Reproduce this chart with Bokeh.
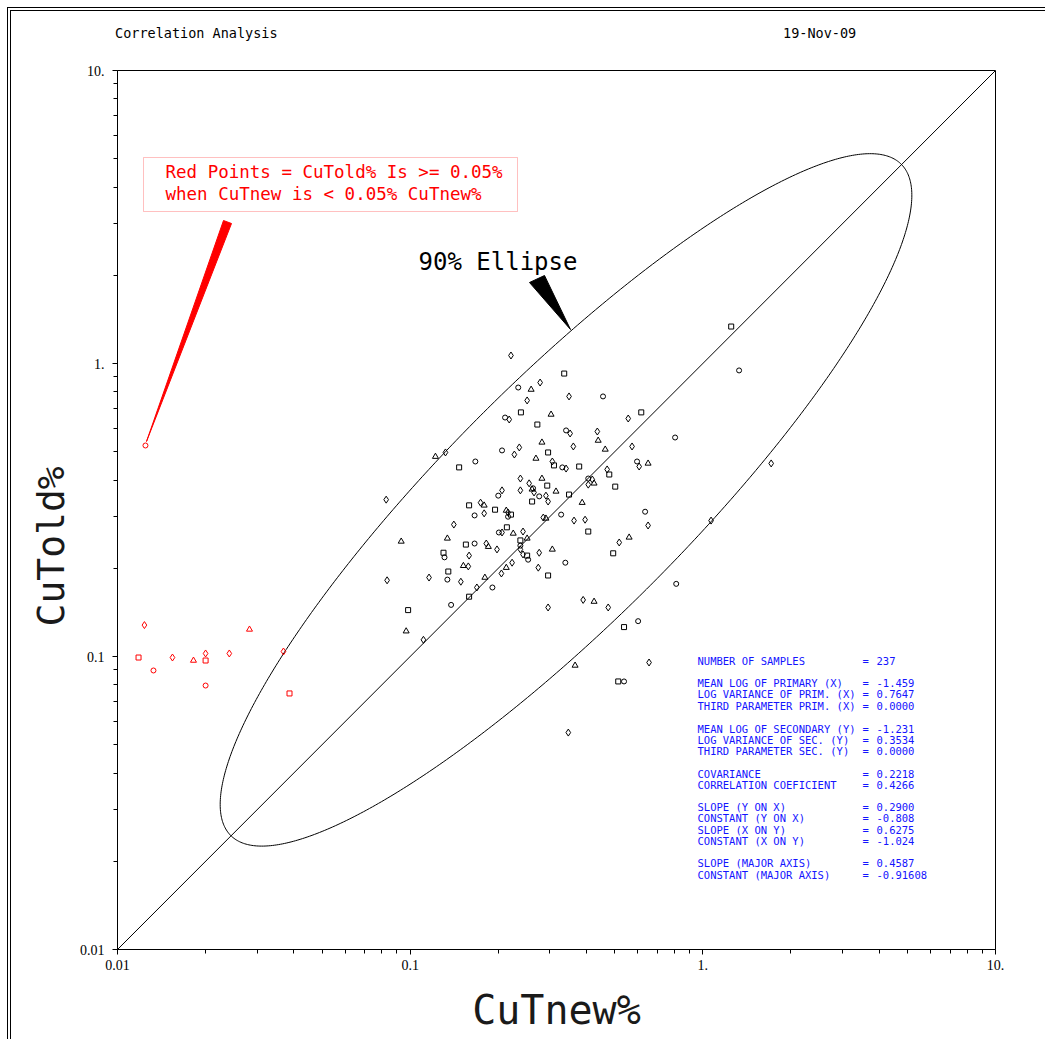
import math
import numpy as np
from bokeh.plotting import figure
from bokeh.layouts import column
from bokeh.models import FixedTicker, BoxAnnotation, ColumnDataSource, Div, Title
from bokeh.embed import file_html
from bokeh.resources import INLINE
from bokeh.core.properties import value

# ---------------- data ----------------
cu_new = [0.221, 0.336, 0.234, 0.278, 0.259, 0.251, 0.239, 0.211, 0.218, 0.303,
          0.349, 0.272, 0.341, 0.352, 0.282, 0.236, 0.296, 0.206, 0.227, 0.269,
          0.306, 0.310, 0.331, 0.341, 0.122, 0.132, 0.147, 0.167, 0.238, 0.282,
          0.255, 0.294, 0.456, 0.436, 0.439, 0.556, 0.616, 0.804, 0.361, 0.464,
          0.573, 0.378, 0.596, 0.606, 0.650, 0.471, 0.479, 0.406, 0.419, 0.425,
          0.406, 0.502, 0.263, 0.0828, 0.0932, 0.0834, 0.0984, 0.138, 0.116, 0.134,
          0.141, 0.159, 0.166, 0.174, 0.179, 0.179, 0.195, 0.200, 0.206, 0.213,
          0.216, 0.221, 0.216, 0.238, 0.261, 0.265, 0.261, 0.276, 0.291, 0.315,
          0.296, 0.349, 0.328, 0.285, 0.291, 0.363, 0.214, 0.201, 0.206, 0.225,
          0.243, 0.155, 0.166, 0.182, 0.185, 0.198, 0.130, 0.131, 0.159, 0.152,
          0.158, 0.135, 0.134, 0.149, 0.180, 0.169, 0.159, 0.191, 0.205, 0.213,
          0.223, 0.238, 0.238, 0.238, 0.251, 0.243, 0.251, 0.253, 0.276, 0.306,
          0.274, 0.296, 0.339, 0.296, 0.387, 0.396, 0.406, 0.635, 0.650, 0.560,
          0.518, 0.494, 0.811, 0.390, 0.425, 0.475, 0.538, 0.601, 1.067, 0.0969,
          0.111, 1.250, 1.330, 1.712, 0.366, 0.347, 0.514, 0.538, 0.655]
cu_old = [1.065, 0.924, 0.828, 0.861, 0.815, 0.748, 0.681, 0.654, 0.644, 0.670,
          0.772, 0.619, 0.591, 0.577, 0.538, 0.517, 0.497, 0.505, 0.489, 0.474,
          0.463, 0.449, 0.442, 0.438, 0.481, 0.497, 0.442, 0.463, 0.405, 0.405,
          0.390, 0.383, 0.772, 0.586, 0.546, 0.649, 0.681, 0.559, 0.521, 0.509,
          0.521, 0.445, 0.463, 0.445, 0.456, 0.435, 0.418, 0.405, 0.402, 0.390,
          0.386, 0.380, 0.375, 0.343, 0.247, 0.182, 0.144, 0.150, 0.186, 0.253,
          0.282, 0.328, 0.303, 0.335, 0.328, 0.308, 0.317, 0.354, 0.369, 0.315,
          0.310, 0.305, 0.300, 0.369, 0.372, 0.363, 0.338, 0.352, 0.354, 0.366,
          0.338, 0.357, 0.305, 0.298, 0.296, 0.291, 0.276, 0.265, 0.265, 0.263,
          0.267, 0.241, 0.243, 0.243, 0.237, 0.232, 0.226, 0.218, 0.221, 0.204,
          0.203, 0.195, 0.183, 0.180, 0.186, 0.172, 0.160, 0.172, 0.192, 0.201,
          0.209, 0.249, 0.239, 0.232, 0.253, 0.223, 0.221, 0.214, 0.226, 0.232,
          0.201, 0.189, 0.209, 0.147, 0.335, 0.293, 0.267, 0.312, 0.280, 0.255,
          0.245, 0.225, 0.177, 0.156, 0.154, 0.147, 0.126, 0.132, 0.291, 0.122,
          0.114, 1.337, 0.947, 0.456, 0.0932, 0.0550, 0.0822, 0.0822, 0.0954]

red_new = [0.01236, 0.0118, 0.01327, 0.01541, 0.01818, 0.0200, 0.0200,
           0.0200, 0.0241, 0.02825, 0.0369, 0.0387, 0.01246]
red_old = [0.128, 0.0992, 0.0896, 0.0992, 0.0969, 0.1024, 0.0969,
           0.0796, 0.1024, 0.1237, 0.104, 0.0748, 0.525]

major_ticks = [0.01, 0.1, 1.0, 10.0]
tick_labels = ["0.01", "0.1", "1.", "10."]
minor_multipliers = [2, 3, 4, 5, 6, 7, 8, 9]

stat_names = ["NUMBER OF SAMPLES", "MEAN LOG OF PRIMARY (X)", "LOG VARIANCE OF PRIM. (X)",
              "THIRD PARAMETER PRIM. (X)", "MEAN LOG OF SECONDARY (Y)",
              "LOG VARIANCE OF SEC. (Y)", "THIRD PARAMETER SEC. (Y)", "COVARIANCE",
              "CORRELATION COEFICIENT", "SLOPE (Y ON X)", "CONSTANT (Y ON X)",
              "SLOPE (X ON Y)", "CONSTANT (X ON Y)", "SLOPE (MAJOR AXIS)",
              "CONSTANT (MAJOR AXIS)"]
stat_values = ["237", "-1.459", "0.7647", "0.0000", "-1.231", "0.3534", "0.0000",
               "0.2218", "0.4266", "0.2900", "-0.808", "0.6275", "-1.024", "0.4587",
               "-0.91608"]

# 90% ellipse in log10 space: centre, semi-axes (decades), angle
ell_center = (-0.4675, -0.4655)
ell_semi = (1.62, 0.41)
ell_angle_deg = 45.0

# ---------------- layout helpers (page pixels -> data) ----------------
FL, FT, FW, FH = 117, 71, 878, 879
ORIGIN = 11          # page offset of the content (7px margin + 4px double border)
HEADER_H = 40


def dx(px):
    return 10 ** ((px - FL) / FW * 3 - 2)


def dy(py):
    return 10 ** (1 - (py - FT) / FH * 3)


p = figure(x_axis_type="log", y_axis_type="log", x_range=(0.01, 10), y_range=(0.01, 10),
           frame_width=FW, frame_height=FH,
           min_border_left=FL - ORIGIN, min_border_right=40,
           min_border_top=9, min_border_bottom=90,
           output_backend="svg", toolbar_location=None, title=None,
           background_fill_color="white", border_fill_color="white")
p.grid.visible = False
p.outline_line_color = "black"
p.outline_line_width = 1

minor_ticks = [m * d for d in major_ticks[:-1] for m in minor_multipliers]
for ax in (p.xaxis[0], p.yaxis[0]):
    ax.ticker = FixedTicker(ticks=major_ticks, minor_ticks=minor_ticks)
    ax.major_label_overrides = dict(zip(major_ticks, tick_labels))
    ax.major_tick_in = 0
    ax.major_tick_out = 5
    ax.minor_tick_in = 0
    ax.minor_tick_out = 4
    ax.axis_line_color = "black"
    ax.major_tick_line_color = "black"
    ax.minor_tick_line_color = "black"
    ax.major_label_text_font = "Liberation Serif"
    ax.major_label_text_font_size = "14px"
    ax.major_label_text_color = "black"
p.xaxis.major_label_standoff = 5
p.yaxis.major_label_standoff = 8
p.xaxis.axis_label = "CuTnew%"
p.xaxis.axis_label_text_font = "DejaVu Sans Mono"
p.xaxis.axis_label_text_font_style = "normal"
p.xaxis.axis_label_text_color = "#1a1a1a"
p.xaxis.axis_label_text_font_size = "40px"
p.xaxis.axis_label_standoff = 14

# y-axis label as a side title, anchored from the bottom so it sits below the frame centre
ylab = Title(text="CuTold%", align="left", offset=323, standoff=8,
             text_font="DejaVu Sans Mono", text_font_size="38px",
             text_font_style="normal", text_color="#1a1a1a")
p.add_layout(ylab, "left")

# diagonal y = x
p.line([0.01, 10], [0.01, 10], line_color="black", line_width=1)

# ellipse
t = np.linspace(0, 2 * np.pi, 600)
th = math.radians(ell_angle_deg)
u = ell_semi[0] * np.cos(t)
v = ell_semi[1] * np.sin(t)
lx = ell_center[0] + u * math.cos(th) - v * math.sin(th)
ly = ell_center[1] + u * math.sin(th) + v * math.cos(th)
p.line(10 ** lx, 10 ** ly, line_color="black", line_width=1)

# points
marker_cycle = ["diamond", "square", "circle", "diamond", "triangle"]
marker_size = {"diamond": 7, "square": 5, "circle": 5, "triangle": 6}


def marker_source(xs, ys):
    ms = [marker_cycle[i % len(marker_cycle)] for i in range(len(xs))]
    return ColumnDataSource(dict(x=xs, y=ys, m=ms, s=[marker_size[m] for m in ms]))


p.scatter("x", "y", marker="m", size="s", source=marker_source(cu_new, cu_old),
          fill_color=None, line_color="black", line_width=1)
p.scatter("x", "y", marker="m", size="s", source=marker_source(red_new, red_old),
          fill_color=None, line_color="red", line_width=1)

# red annotation box + pointer
p.add_layout(BoxAnnotation(left=dx(143), right=dx(517), top=dy(158), bottom=dy(212),
                           fill_color=None, fill_alpha=0, line_color="#ff3030", line_width=1))
p.text(x=[dx(165), dx(165)], y=[dy(172), dy(194)],
       text=["Red Points = CuTold% Is >= 0.05%", "when CuTnew is < 0.05% CuTnew%"],
       text_color="red", text_font=value("DejaVu Sans Mono"), text_font_size="17.5px",
       text_baseline="middle")
p.patch([dx(223), dx(231), dx(146)], [dy(221), dy(224), dy(442)], color="red")

# 90% ellipse label + pointer
p.text(x=[dx(418)], y=[dy(262)], text=["90% Ellipse"], text_color="black",
       text_font=value("DejaVu Sans Mono"), text_font_size="24px", text_baseline="middle")
p.patch([dx(529), dx(544), dx(570)], [dy(283), dy(276), dy(330)], color="black")

# statistics block
row_py = [661, 683, 694, 706, 729, 740, 751, 774, 785, 807, 818, 830, 841, 863, 875]
ys = [dy(r) for r in row_py]
blue = "#1414ff"
for xpx, txt in ((697, stat_names), (862, ["="] * len(ys)), (876, stat_values)):
    p.text(x=[dx(xpx)] * len(ys), y=ys, text=txt, text_color=blue,
           text_font=value("DejaVu Sans Mono"), text_font_size="10.5px",
           text_baseline="middle")

# header line (title and date)
header = Div(
    text=('<div style="position:relative;height:40px;white-space:nowrap;'
          'font-family:\'DejaVu Sans Mono\';font-size:13.5px;color:black;">'
          '<span style="position:absolute;left:99px;top:8px;white-space:nowrap;">'
          'Correlation Analysis</span>'
          '<span style="position:absolute;left:767px;top:8px;white-space:nowrap;">'
          '19-Nov-09</span></div>'),
    width=FL - ORIGIN + FW + 40, height=HEADER_H)

root = column(header, p, spacing=0,
              styles={"margin-left": "7px", "margin-top": "7px",
                      "border-left": "4px double black", "border-top": "4px double black"})

open("out.html", "w").write(file_html(root, INLINE))
